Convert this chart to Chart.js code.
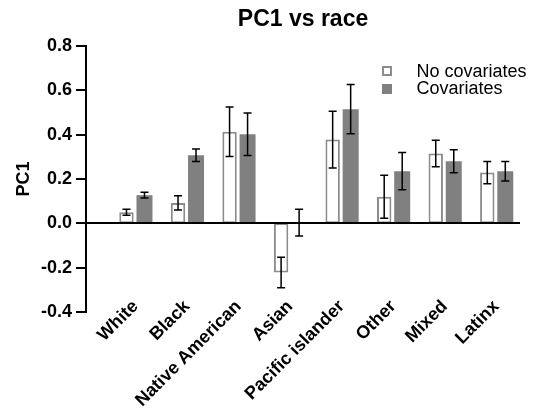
<!DOCTYPE html>
<html><head><meta charset="utf-8">
<script src="https://cdn.jsdelivr.net/npm/chart.js@4.4.0/dist/chart.umd.min.js"></script>
<style>html,body{margin:0;padding:0;background:#fff;overflow:hidden;}</style>
</head><body>
<canvas id="c" width="544" height="419" style="width:544px;height:419px;display:block"></canvas>
<script>
const categories = ['White', 'Black', 'Native American', 'Asian', 'Pacific islander', 'Other', 'Mixed', 'Latinx'];
const noCovValues = [0.05, 0.092, 0.413, -0.222, 0.378, 0.12, 0.315, 0.229];
const noCovErrors = [0.013, 0.032, 0.112, 0.069, 0.128, 0.097, 0.06, 0.05];
const covValues = [0.127, 0.307, 0.402, 0.003, 0.515, 0.235, 0.28, 0.235];
const covErrors = [0.013, 0.028, 0.096, 0.06, 0.111, 0.084, 0.052, 0.044];
const seriesLabels = ['No covariates', 'Covariates'];
const yMin = -0.4, yMax = 0.8, yStep = 0.2;
const titleText = 'PC1 vs race';
const yTitle = 'PC1';

Chart.defaults.font.family = "'Liberation Sans', Arial, Helvetica, sans-serif";
Chart.defaults.color = '#000';

const GRAY_FILL = '#808080';
const GRAY_LINE = '#8c8c8c';

const errorBars = {
  id: 'errorBars',
  afterDatasetsDraw(chart) {
    const ctx = chart.ctx, y = chart.scales.y;
    const vals = [noCovValues, covValues], errs = [noCovErrors, covErrors];
    ctx.save();
    ctx.strokeStyle = '#000';
    ctx.lineWidth = 1.5;
    chart.data.datasets.forEach((ds, di) => {
      chart.getDatasetMeta(di).data.forEach((bar, i) => {
        const v = vals[di][i], e = errs[di][i];
        const yt = y.getPixelForValue(v + e), yb = y.getPixelForValue(v - e);
        const x = bar.x, cap = 4;
        ctx.beginPath();
        ctx.moveTo(x, yt); ctx.lineTo(x, yb);
        ctx.moveTo(x - cap, yt); ctx.lineTo(x + cap, yt);
        ctx.moveTo(x - cap, yb); ctx.lineTo(x + cap, yb);
        ctx.stroke();
      });
    });
    ctx.restore();
  }
};

const legendBox = {
  id: 'legendBox',
  afterDraw(chart) {
    const ctx = chart.ctx, a = chart.chartArea;
    const sx = a.right - 138, tx = a.right - 103.5;
    ctx.save();
    ctx.fillStyle = '#fff';
    ctx.strokeStyle = GRAY_LINE;
    ctx.lineWidth = 2;
    ctx.strokeRect(sx + 1, a.top + 21, 8, 8);
    ctx.fillStyle = GRAY_FILL;
    ctx.fillRect(sx, a.top + 38, 10, 10);
    ctx.fillStyle = '#000';
    ctx.font = "18px 'Liberation Sans', Arial, sans-serif";
    ctx.textBaseline = 'alphabetic';
    ctx.textAlign = 'left';
    ctx.fillText(chart.data.datasets[0].label, tx, a.top + 30.7);
    ctx.fillText(chart.data.datasets[1].label, tx, a.top + 48.3);
    ctx.restore();
  }
};

new Chart(document.getElementById('c'), {
  type: 'bar',
  data: {
    datasets: [
      {
        label: seriesLabels[0],
        data: noCovValues.map((v, i) => ({x: i, y: v})),
        backgroundColor: '#fff',
        borderColor: GRAY_LINE,
        borderWidth: 2,
        borderSkipped: false,
        barPercentage: 0.8,
        categoryPercentage: 0.6985
      },
      {
        label: seriesLabels[1],
        data: covValues.map((v, i) => ({x: i, y: v})),
        backgroundColor: GRAY_FILL,
        borderWidth: 0,
        barPercentage: 0.889,
        categoryPercentage: 0.6985
      }
    ]
  },
  options: {
    responsive: false,
    animation: false,
    devicePixelRatio: 1,
    layout: {padding: {left: 4, right: 24, top: 0, bottom: 0}},
    plugins: {
      legend: {display: false},
      tooltip: {enabled: false},
      title: {
        display: true,
        text: titleText,
        fullSize: false,
        color: '#000',
        font: {size: 23, weight: 'bold'},
        padding: {top: 5.5, bottom: 12.9}
      }
    },
    scales: {
      x: {
        type: 'linear',
        min: -0.96,
        max: 7.46,
        offset: false,
        grid: {display: false, drawTicks: false},
        border: {display: false},
        ticks: {
          stepSize: 1,
          includeBounds: false,
          autoSkip: false,
          maxRotation: 45,
          minRotation: 45,
          padding: -16,
          color: '#000',
          font: {size: 18, weight: 'bold'},
          callback: (v) => Number.isInteger(v) && categories[v] !== undefined ? categories[v] : ''
        },
        afterFit(s) { s.height = 107; s._computeLabelArea = () => undefined; }
      },
      y: {
        min: yMin,
        max: yMax,
        ticks: {
          stepSize: yStep,
          padding: 4,
          color: '#000',
          font: {size: 18, weight: 'bold'},
          callback: (v) => Math.abs(v) < 1e-9 ? '0.0' : v.toFixed(1)
        },
        grid: {
          color: (c) => (c.tick && Math.abs(c.tick.value) < 1e-9) ? '#000' : 'rgba(0,0,0,0)',
          lineWidth: 2,
          tickColor: '#000',
          tickLength: 10,
          tickWidth: 2,
          z: 1
        },
        border: {display: true, color: '#000', width: 2, z: 1},
        title: {
          display: true,
          text: yTitle,
          color: '#000',
          font: {size: 18, weight: 'bold'},
          padding: {top: 9, bottom: 0}
        },
        afterFit(s) { s.width = 82; }
      }
    }
  },
  plugins: [errorBars, legendBox]
});
</script>
</body></html>
